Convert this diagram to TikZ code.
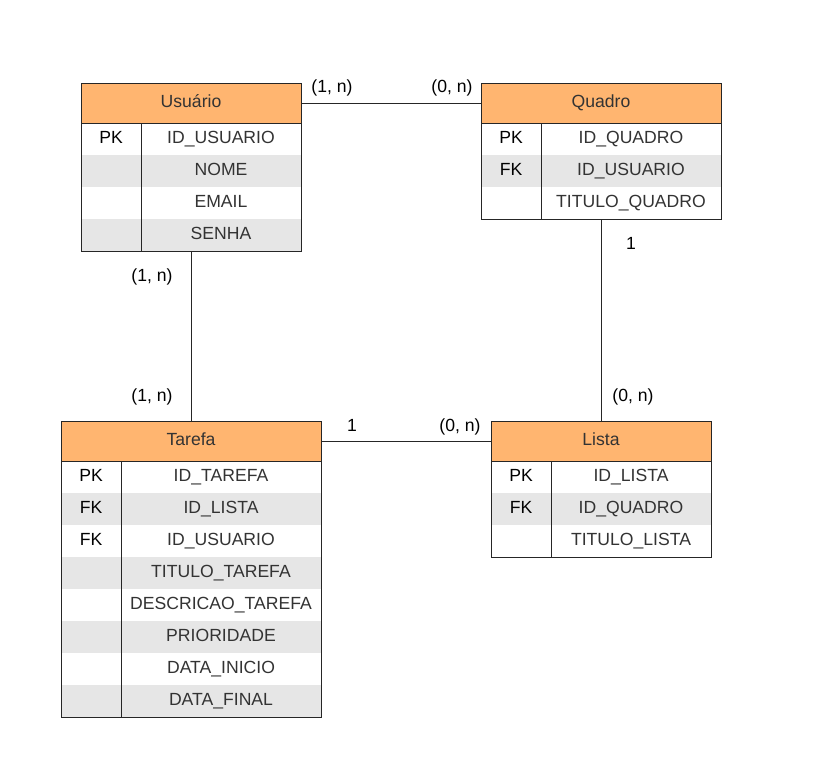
\documentclass[tikz,border=0pt]{standalone}
\usepackage{fontspec}
\setmainfont{Liberation Sans}
\usetikzlibrary{fit}
\definecolor{headorange}{HTML}{FFB570}
\definecolor{rowgray}{HTML}{E6E6E6}
\definecolor{txtgray}{HTML}{333333}
\definecolor{linegray}{HTML}{262626}
\begin{document}
\begin{tikzpicture}[x=0.75pt,y=-0.75pt,font=\fontsize{13.2}{15}\selectfont]


\tikzset{head/.style={rectangle,draw=linegray,line width=0.75pt,fill=headorange,text=txtgray,minimum height=30pt,text height=9.5pt,text depth=3.5pt,inner sep=0pt,outer sep=0pt,anchor=north west},}
\tikzset{keycell/.style={rectangle,minimum width=45pt,minimum height=24pt,text height=9.5pt,text depth=3.5pt,inner sep=0pt,outer sep=0pt,anchor=north west,text=black},}
\tikzset{fieldcell/.style={rectangle,minimum width=#1,minimum height=24pt,text height=9.5pt,text depth=3.5pt,inner sep=0pt,outer sep=0pt,anchor=north west,text=txtgray},}
\tikzset{frame/.style={rectangle,draw=linegray,line width=0.75pt,inner sep=0pt,outer sep=0pt},}
\tikzset{rule/.style={draw=linegray,line width=0.75pt}}
\tikzset{card/.style={inner sep=1pt,text height=9.5pt,text depth=3.5pt,text=black},}

\useasboundingbox (0,0) rectangle (832,776);

% Usuario
\foreach \k/\f [count=\i] in {PK/ID\_USUARIO,/NOME,/EMAIL,/SENHA}{
	\ifodd\i \def\rowfill{white}\else\def\rowfill{rowgray}\fi
	\node[keycell,fill=\rowfill] (u-k\i) at (81,{91+32*\i}) {\k};
	\node[fieldcell=120pt,fill=\rowfill] (u-f\i) at (u-k\i.north east) {\f};
}
\node[head,minimum width=165pt] (uhead) at (81,83) {Usuário};
\node[frame,fit=(uhead)(u-f4)] (usuario) {};
\draw[rule] (u-k1.north east) -- (u-k4.south east);

% Quadro
\foreach \k/\f [count=\i] in {PK/ID\_QUADRO,FK/ID\_USUARIO,/TITULO\_QUADRO}{
	\ifodd\i \def\rowfill{white}\else\def\rowfill{rowgray}\fi
	\node[keycell,fill=\rowfill] (q-k\i) at (481,{91+32*\i}) {\k};
	\node[fieldcell=135pt,fill=\rowfill] (q-f\i) at (q-k\i.north east) {\f};
}
\node[head,minimum width=180pt] (qhead) at (481,83) {Quadro};
\node[frame,fit=(qhead)(q-f3)] (quadro) {};
\draw[rule] (q-k1.north east) -- (q-k3.south east);

% Tarefa
\foreach \k/\f [count=\i] in {PK/ID\_TAREFA,FK/ID\_LISTA,FK/ID\_USUARIO,/TITULO\_TAREFA,/DESCRICAO\_TAREFA,/PRIORIDADE,/DATA\_INICIO,/DATA\_FINAL}{
	\ifodd\i \def\rowfill{white}\else\def\rowfill{rowgray}\fi
	\node[keycell,fill=\rowfill] (t-k\i) at (61,{429+32*\i}) {\k};
	\node[fieldcell=150pt,fill=\rowfill] (t-f\i) at (t-k\i.north east) {\f};
}
\node[head,minimum width=195pt] (thead) at (61,421) {Tarefa};
\node[frame,fit=(thead)(t-f8)] (tarefa) {};
\draw[rule] (t-k1.north east) -- (t-k8.south east);

% Lista
\foreach \k/\f [count=\i] in {PK/ID\_LISTA,FK/ID\_QUADRO,/TITULO\_LISTA}{
	\ifodd\i \def\rowfill{white}\else\def\rowfill{rowgray}\fi
	\node[keycell,fill=\rowfill] (l-k\i) at (491,{429+32*\i}) {\k};
	\node[fieldcell=120pt,fill=\rowfill] (l-f\i) at (l-k\i.north east) {\f};
}
\node[head,minimum width=165pt] (lhead) at (491,421) {Lista};
\node[frame,fit=(lhead)(l-f3)] (lista) {};
\draw[rule] (l-k1.north east) -- (l-k3.south east);

% relacoes
\draw[rule] (uhead.east) -- (qhead.west);
\draw[rule] (usuario.south) -- (tarefa.north);
\draw[rule] (quadro.south) -- (lista.north);
\draw[rule] (thead.east) -- (lhead.west);

\node[card] (uq-u) at (332,88) {(1, n)};
\node[card] (uq-q) at (452,88) {(0, n)};
\node[card] (ut-u) at (152,277) {(1, n)};
\node[card] (ut-t) at (152,397) {(1, n)};
\node[card] (ql-q) at (631,245) {1};
\node[card] (ql-l) at (633,397) {(0, n)};
\node[card] (tl-t) at (352,427) {1};
\node[card] (tl-l) at (460,427) {(0, n)};


\end{tikzpicture}
\end{document}
